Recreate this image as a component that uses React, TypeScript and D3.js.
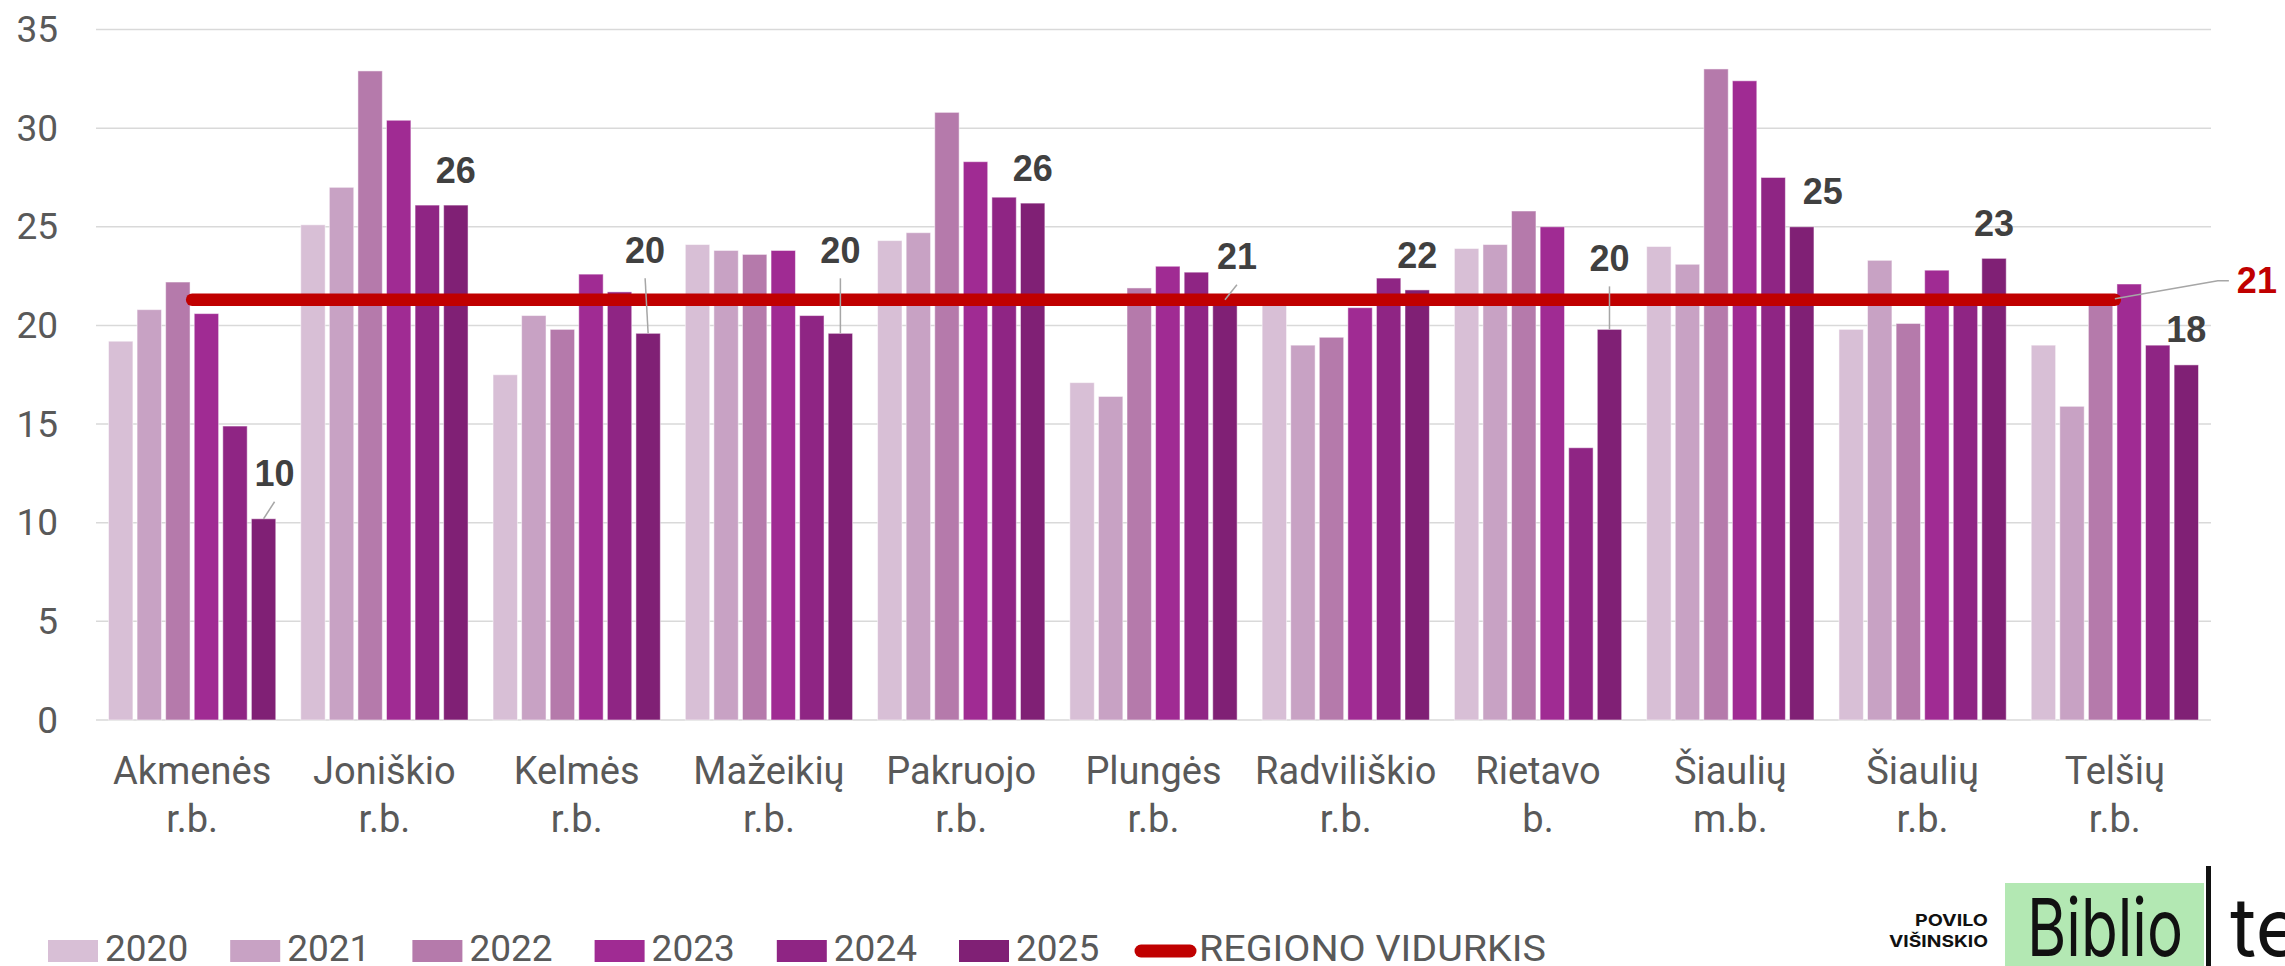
import React from 'react';
import * as d3 from 'd3';

// --- data ---
const categories = [
  'Akmenės r.b.', 'Joniškio r.b.', 'Kelmės r.b.', 'Mažeikių r.b.', 'Pakruojo r.b.',
  'Plungės r.b.', 'Radviliškio r.b.', 'Rietavo b.', 'Šiaulių m.b.', 'Šiaulių r.b.', 'Telšių r.b.',
];
const categoryLines = [
  ['Akmenės', 'r.b.'], ['Joniškio', 'r.b.'], ['Kelmės', 'r.b.'], ['Mažeikių', 'r.b.'], ['Pakruojo', 'r.b.'],
  ['Plungės', 'r.b.'], ['Radviliškio', 'r.b.'], ['Rietavo', 'b.'], ['Šiaulių', 'm.b.'], ['Šiaulių', 'r.b.'], ['Telšių', 'r.b.'],
];
const years = ['2020', '2021', '2022', '2023', '2024', '2025'];

const v2020 = [19.2, 25.1, 17.5, 24.1, 24.3, 17.1, 21.4, 23.9, 24.0, 19.8, 19.0];
const v2021 = [20.8, 27.0, 20.5, 23.8, 24.7, 16.4, 19.0, 24.1, 23.1, 23.3, 15.9];
const v2022 = [22.2, 32.9, 19.8, 23.6, 30.8, 21.9, 19.4, 25.8, 33.0, 20.1, 21.3];
const v2023 = [20.6, 30.4, 22.6, 23.8, 28.3, 23.0, 20.9, 25.0, 32.4, 22.8, 22.1];
const v2024 = [14.9, 26.1, 21.7, 20.5, 26.5, 22.7, 22.4, 13.8, 27.5, 21.4, 19.0];
const v2025 = [10.2, 26.1, 19.6, 19.6, 26.2, 21.3, 21.8, 19.8, 25.0, 23.4, 18.0];
const series = [v2020, v2021, v2022, v2023, v2024, v2025];

const regionAverage = 21.3;
const yTicks = [0, 5, 10, 15, 20, 25, 30, 35];

const colors = ['#d8bfd6', '#c8a2c4', '#b57aab', '#a02b93', '#8f2584', '#802075'];
const avgColor = '#c00000';

// manual nudges of the 2025 labels (Excel moved some of them)
const labelNudge: [number, number, boolean][] = [
  [11, -45, true], [0, -35, false], [-3, -83, true], [0, -83, true], [0, -35, false],
  [12, -43, true], [0, -34, false], [0, -71, true], [21, -35, false], [0, -35, false], [0, -35, false],
];

const W = 2285;
const H = 966;
const FONT = "Roboto, 'Noto Sans', sans-serif";
const BOLD = "'Liberation Sans', Arial, sans-serif";

const App: React.FC = () => {
  const x0 = d3.scaleBand<string>().domain(categories).range([96, 2211]).paddingInner(0.13).paddingOuter(0.065);
  const x1 = d3.scaleBand<string>().domain(years).range([0, x0.bandwidth()]).paddingInner(0.146);
  const y = d3.scaleLinear().domain([0, 35]).range([720, 29.5]);

  const cx = (i: number) => (x0(categories[i]) as number) + x0.bandwidth() / 2;
  const barCx = (i: number, s: number) => (x0(categories[i]) as number) + (x1(years[s]) as number) + x1.bandwidth() / 2;

  const avgLine = d3.line<number>()
    .x((_, i) => cx(i === 0 ? 0 : categories.length - 1))
    .y(d => y(d));

  const lastX = cx(categories.length - 1);
  const avgY = y(regionAverage);

  const legendItems = years.map((yr, i) => ({ yr, x: 48 + i * 182.2, color: colors[i] }));

  return (
    <svg width={W} height={H} style={{ position: 'absolute', left: 0, top: 0, background: '#fff' }}>
      {/* grid */}
      {yTicks.map(t => (
        <g key={t}>
          <line x1={96} x2={2211} y1={y(t)} y2={y(t)} stroke="#d9d9d9" strokeWidth={1.5} />
          <text x={58} y={y(t)} textAnchor="end" dominantBaseline="central" fontFamily={FONT} fontSize={37} fill="#595959">{t}</text>
        </g>
      ))}

      {/* bars */}
      {series.map((vals, s) => (
        <g key={years[s]} fill={colors[s]}>
          {vals.map((v, i) => (
            <rect key={i}
              x={(x0(categories[i]) as number) + (x1(years[s]) as number)}
              y={y(v)}
              width={x1.bandwidth()}
              height={y(0) - y(v)}
              stroke="#ffffff" strokeOpacity={0.5} strokeWidth={1} />
          ))}
        </g>
      ))}

      {/* region average */}
      <path d={avgLine([regionAverage, regionAverage]) || ''} stroke={avgColor} strokeWidth={12.5} strokeLinecap="round" fill="none" />
      <polyline points={`${lastX},${avgY - 1} ${lastX + 103},${avgY - 19} ${lastX + 114},${avgY - 19}`} fill="none" stroke="#a6a6a6" strokeWidth={1.5} />
      <text x={lastX + 122} y={avgY - 19} dominantBaseline="central" fontFamily={BOLD} fontWeight="bold" fontSize={36} fill={avgColor}>
        {Math.round(regionAverage)}
      </text>

      {/* 2025 labels */}
      {v2025.map((v, i) => {
        const bx = barCx(i, 5);
        const by = y(v);
        const [dx, dy, leader] = labelNudge[i];
        const lx = bx + dx;
        const ly = by + dy;
        return (
          <g key={i}>
            {leader && <line x1={lx} y1={ly + 28} x2={bx} y2={by} stroke="#a6a6a6" strokeWidth={1.5} />}
            <text x={lx} y={ly} textAnchor="middle" dominantBaseline="central" fontFamily={BOLD} fontWeight="bold" fontSize={36} fill="#404040">
              {Math.round(v)}
            </text>
          </g>
        );
      })}

      {/* category labels */}
      {categoryLines.map((lines, i) => (
        <text key={i} x={cx(i)} textAnchor="middle" fontFamily={FONT} fontSize={38} fill="#595959">
          <tspan x={cx(i)} y={784}>{lines[0]}</tspan>
          <tspan x={cx(i)} y={832}>{lines[1]}</tspan>
        </text>
      ))}

      {/* legend */}
      {legendItems.map(it => (
        <g key={it.yr}>
          <rect x={it.x} y={940} width={50} height={22} fill={it.color} />
          <text x={it.x + 57} y={961} fontFamily={FONT} fontSize={37} fill="#595959">{it.yr}</text>
        </g>
      ))}
      <line x1={1141} x2={1190} y1={951} y2={951} stroke={avgColor} strokeWidth={13} strokeLinecap="round" />
      <text x={1199} y={961} fontFamily={FONT} fontSize={37} fill="#595959" textLength={347} lengthAdjust="spacingAndGlyphs">REGIONO VIDURKIS</text>

      {/* logo */}
      <text x={1988} y={926} textAnchor="end" fontFamily="Inter, sans-serif" fontWeight="bold" fontSize={16} fill="#111" textLength={73} lengthAdjust="spacingAndGlyphs">POVILO</text>
      <text x={1988} y={947} textAnchor="end" fontFamily="Inter, sans-serif" fontWeight="bold" fontSize={16} fill="#111" textLength={99} lengthAdjust="spacingAndGlyphs">VIŠINSKIO</text>
      <rect x={2005} y={883} width={199} height={90} fill="#b3e8b3" />
      <text x={2027} y={956} fontFamily="Inter, sans-serif" fontSize={80} fill="#111" textLength={156} lengthAdjust="spacingAndGlyphs">Biblio</text>
      <rect x={2206} y={866} width={5} height={100} fill="#111" />
      <text x={2230} y={956} fontFamily="Inter, sans-serif" fontSize={80} fill="#111">te</text>
    </svg>
  );
};

export default App;
